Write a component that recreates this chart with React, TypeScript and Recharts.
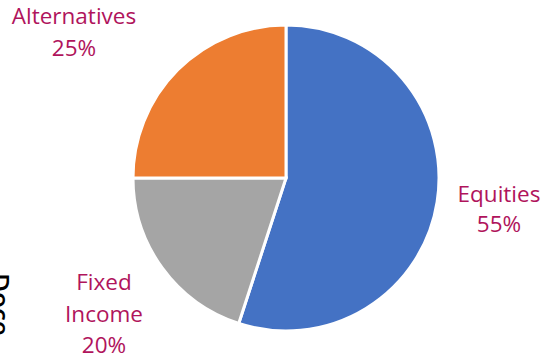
import React from 'react';
import { PieChart, Pie, Cell } from 'recharts';

const categories = ['Equities', 'Fixed Income', 'Alternatives'];
const allocation = [55, 20, 25];
const sliceColors = ['#4472C4', '#A5A5A5', '#ED7D31'];

const LABEL_COLOR = '#B0145C';
const LABEL_FONT = '"Open Sans", sans-serif';

// where each label block sits relative to the pie centre (text lines, baselines)
const labelLayout: Record<string, { dx: number; lines: string[]; baselines: number[] }> = {
  Equities: { dx: 213, lines: ['Equities'], baselines: [24, 54] },
  'Fixed Income': { dx: -182, lines: ['Fixed', 'Income'], baselines: [112, 144, 175] },
  Alternatives: { dx: -212, lines: ['Alternatives'], baselines: [-154, -122] },
};

const data = categories.map((name, i) => ({ name, value: allocation[i] }));
const total = allocation.reduce((a, b) => a + b, 0);

const renderLabel = (props: any) => {
  const { cx, cy, index } = props;
  const name = categories[index];
  const layout = labelLayout[name];
  const pct = `${Math.round((allocation[index] / total) * 100)}%`;
  const lines = [...layout.lines, pct];
  return (
    <text
      key={name}
      fill={LABEL_COLOR}
      fontFamily={LABEL_FONT}
      fontSize={22.5}
      textAnchor="middle"
    >
      {lines.map((t, j) => (
        <tspan key={j} x={cx + layout.dx} y={cy + layout.baselines[j]}>
          {t}
        </tspan>
      ))}
    </text>
  );
};

const App: React.FC = () => {
  return (
    <div style={{ position: 'absolute', left: 0, top: 0, width: 546, height: 357, background: '#fff', overflow: 'hidden' }}>
      <PieChart width={546} height={357} margin={{ top: 0, right: 0, bottom: 0, left: 0 }}>
        <Pie
          data={data}
          dataKey="value"
          nameKey="name"
          cx={286}
          cy={178}
          outerRadius={153}
          startAngle={90}
          endAngle={-270}
          stroke="#ffffff"
          strokeWidth={3}
          label={renderLabel}
          labelLine={false}
          isAnimationActive={false}
        >
          {data.map((d, i) => (
            <Cell key={d.name} fill={sliceColors[i]} />
          ))}
        </Pie>
      </PieChart>
      <svg width={546} height={357} style={{ position: 'absolute', left: 0, top: 0, pointerEvents: 'none' }}>
        <text
          x={-9}
          y={273}
          transform="rotate(90, -9, 273)"
          fontFamily={LABEL_FONT}
          fontSize={26}
          fontWeight={600}
          fill="#000"
        >
          Doce
        </text>
      </svg>
    </div>
  );
};

export default App;
